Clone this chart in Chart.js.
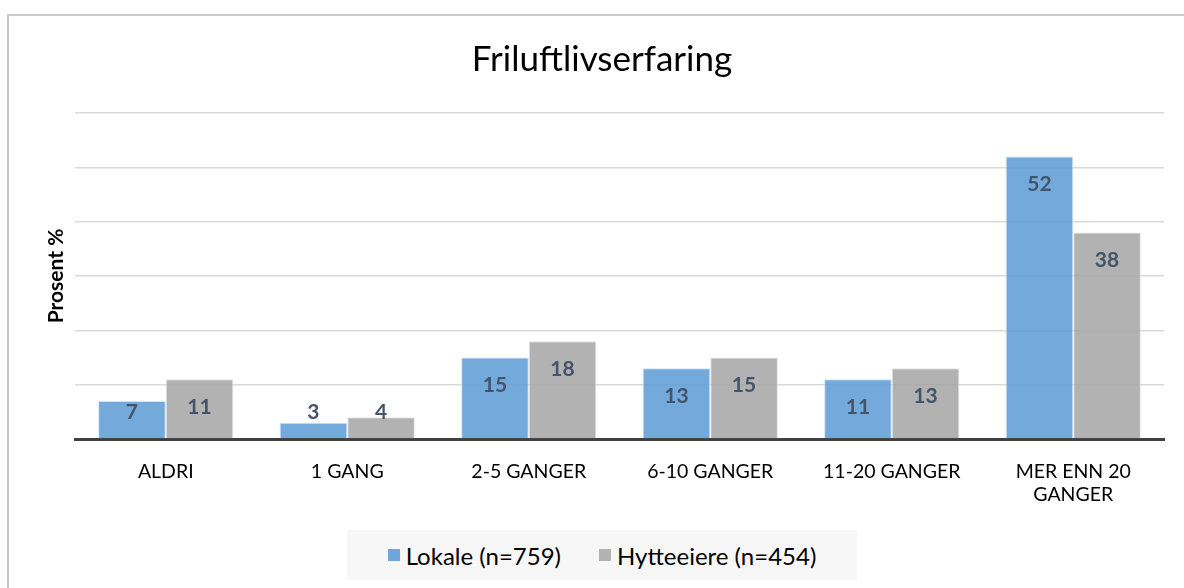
<!DOCTYPE html>
<html>
<head>
<meta charset="utf-8">
<title>Friluftlivserfaring</title>
<script src="https://cdn.jsdelivr.net/npm/chart.js@4/dist/chart.umd.min.js"></script>
<style>
    html, body { margin: 0; padding: 0; background: #fff; overflow: hidden; }
    #frame {
        position: absolute; left: 7px; top: 14px;
        width: 1220px; height: 620px;
        border: 2px solid #c9c9c9;
    }
    #chart { position: absolute; left: 0; top: 0; }
    #legend {
        position: absolute; left: 347px; top: 530px;
        width: 510px; height: 50px;
        background: #f7f7f7;
        display: flex; align-items: center; justify-content: center;
        font-family: Lato, "Open Sans", sans-serif; font-size: 24px; color: #000;
    }
    #legend .item { display: flex; align-items: center; margin: 0 19px; }
    #legend .swatch { width: 12px; height: 12px; margin-right: 6px; }
</style>
</head>
<body>
<div id="frame"></div>
<canvas id="chart" width="1184" height="588"></canvas>
<div id="legend"></div>
<script>
// Data
const categories = ['ALDRI', '1 GANG', '2-5 GANGER', '6-10 GANGER', '11-20 GANGER', ['MER ENN 20', 'GANGER']];
const seriesNames = ['Lokale (n=759)', 'Hytteeiere (n=454)'];
const lokale = [7, 3, 15, 13, 11, 52];
const hytteeiere = [11, 4, 18, 15, 13, 38];
const yMin = 0;
const yMax = 60;
const yStep = 10;

const FONT = 'Lato, "Open Sans", sans-serif';
const swatchColors = ['#6fa6d9', '#b2b2b2'];

// Verdietiketter inne i toppen av stolpene
const barLabels = {
    id: 'barLabels',
    afterDatasetsDraw(chart) {
        const ctx = chart.ctx;
        ctx.save();
        ctx.font = 'bold 21px ' + FONT;
        ctx.fillStyle = '#44546a';
        ctx.textAlign = 'center';
        ctx.textBaseline = 'middle';
        chart.data.datasets.forEach((ds, i) => {
            chart.getDatasetMeta(i).data.forEach((bar, j) => {
                const y = Math.min(bar.y + 28, bar.base - 26);
                ctx.fillText(ds.data[j], bar.x, y);
            });
        });
        ctx.restore();
    }
};

const chart = new Chart(document.getElementById('chart'), {
    type: 'bar',
    data: {
        labels: categories,
        datasets: [{
            label: seriesNames[0],
            data: lokale,
            backgroundColor: 'rgba(91, 155, 213, 0.85)',
            borderColor: 'rgba(200, 224, 245, 0.9)',
            borderWidth: 1
        }, {
            label: seriesNames[1],
            data: hytteeiere,
            backgroundColor: 'rgba(165, 165, 165, 0.85)',
            borderColor: 'rgba(225, 225, 225, 0.9)',
            borderWidth: 1
        }]
    },
    options: {
        responsive: false,
        animation: false,
        devicePixelRatio: 1,
        categoryPercentage: 0.745,
        barPercentage: 1,
        layout: {
            padding: { left: 40, right: 20, top: 0, bottom: 83 }
        },
        plugins: {
            title: {
                display: true,
                text: 'Friluftlivserfaring',
                color: '#000',
                font: { family: FONT, size: 35, weight: 'normal' },
                padding: { top: 39, bottom: 32 }
            },
            legend: { display: false },
            tooltip: { enabled: false }
        },
        scales: {
            x: {
                grid: { display: false },
                border: { color: '#404040', width: 3 },
                ticks: {
                    color: '#000',
                    font: { family: FONT, size: 19.5 },
                    maxRotation: 0,
                    padding: 13
                },
                afterFit: (scale) => { scale.height = 66; }
            },
            y: {
                min: yMin,
                max: yMax,
                ticks: { display: false, stepSize: yStep },
                grid: { color: '#d9d9d9', lineWidth: 1.5, drawTicks: false },
                border: { display: false },
                title: {
                    display: true,
                    text: 'Prosent %',
                    color: '#000',
                    font: { family: FONT, size: 21, weight: 'bold' },
                    padding: { top: 4, bottom: 0 }
                },
                afterFit: (scale) => { scale.width = 35; }
            }
        }
    },
    plugins: [barLabels]
});

// Forklaring bygd fra datasettene
const legendEl = document.getElementById('legend');
chart.data.datasets.forEach((ds, i) => {
    const item = document.createElement('span');
    item.className = 'item';
    const sw = document.createElement('span');
    sw.className = 'swatch';
    sw.style.background = swatchColors[i];
    const txt = document.createElement('span');
    txt.textContent = ds.label;
    item.appendChild(sw);
    item.appendChild(txt);
    legendEl.appendChild(item);
});
</script>
</body>
</html>
